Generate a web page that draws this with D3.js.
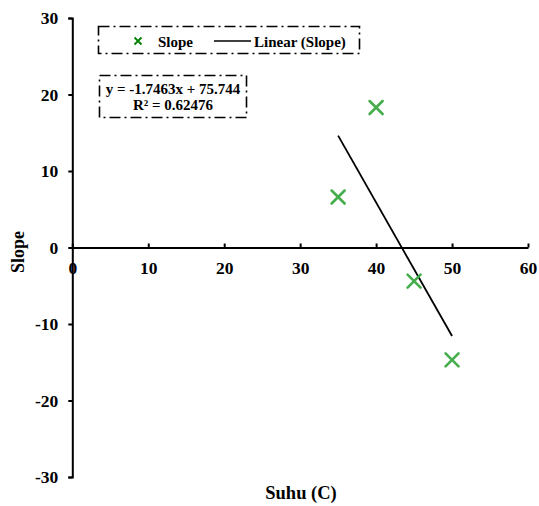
<!DOCTYPE html>
<html>
<head>
<meta charset="utf-8">
<script src="https://cdn.jsdelivr.net/npm/d3@7"></script>
<style>
  body { margin: 0; background: #fff; }
  text { font-family: "Liberation Serif", "Times New Roman", serif; font-weight: bold; fill: #000; }
</style>
</head>
<body>
<div id="chart"></div>
<script>
// data
var suhu = [35, 40, 45, 50];
var slope = [6.6, 18.3, -4.4, -14.7];
var xTicks = [0, 10, 20, 30, 40, 50, 60];
var yTicks = [-30, -20, -10, 0, 10, 20, 30];
var trendSlope = -1.7463;
var trendIntercept = 75.744;
var eqLines = ["y = -1.7463x + 75.744", "R\u00b2 = 0.62476"];

var width = 539, height = 506;

var svg = d3.select("#chart").append("svg")
  .attr("width", width)
  .attr("height", height);

var x = d3.scaleLinear().domain([0, 60]).range([72.3, 528]);
var y = d3.scaleLinear().domain([-30, 30]).range([477, 18]);

// plain hyphen like the original, not the unicode minus
var fmt = function(d) { return String(d); };

// y axis, ticks outside
var yAxis = svg.append("g")
  .attr("transform", "translate(" + x(0) + ",0)")
  .call(d3.axisLeft(y).tickValues(yTicks).tickFormat(fmt).tickSize(4).tickPadding(10));
yAxis.select(".domain").attr("stroke", "#000").attr("stroke-width", 2);
yAxis.selectAll(".tick line").attr("stroke", "#000").attr("stroke-width", 2);
yAxis.selectAll(".tick text")
  .style("font-size", "17.5px")
  .style("font-family", "Liberation Serif")
  .style("font-weight", "bold");

// x axis through zero, ticks pointing up
var xAxis = svg.append("g")
  .attr("transform", "translate(0," + y(0) + ")")
  .call(d3.axisBottom(x).tickValues(xTicks).tickFormat(fmt).tickSizeInner(-4).tickSizeOuter(0).tickPadding(14));
xAxis.select(".domain").attr("stroke", "#000").attr("stroke-width", 2);
xAxis.selectAll(".tick line").attr("stroke", "#000").attr("stroke-width", 2);
xAxis.selectAll(".tick text")
  .style("font-size", "17.5px")
  .style("font-family", "Liberation Serif")
  .style("font-weight", "bold");

// axis titles
svg.append("text")
  .attr("transform", "translate(24," + 252 + ") rotate(-90)")
  .attr("text-anchor", "middle")
  .style("font-size", "18px")
  .text("Slope");

svg.append("text")
  .attr("x", 301)
  .attr("y", 499)
  .attr("text-anchor", "middle")
  .style("font-size", "18.5px")
  .text("Suhu (C)");

// soft edge for markers
var defs = svg.append("defs");
defs.append("filter").attr("id", "soft")
  .append("feGaussianBlur").attr("stdDeviation", 0.7);

// trendline over the data range
var xmin = d3.min(suhu), xmax = d3.max(suhu);
svg.append("line")
  .attr("x1", x(xmin)).attr("y1", y(trendSlope * xmin + trendIntercept))
  .attr("x2", x(xmax)).attr("y2", y(trendSlope * xmax + trendIntercept))
  .attr("stroke", "#000")
  .attr("stroke-width", 1.8);

// markers
var pts = d3.zip(suhu, slope);
var m = 6.5;
svg.append("g").selectAll("path")
  .data(pts)
  .enter()
  .append("path")
  .attr("d", function(d) {
    var cx = x(d[0]), cy = y(d[1]);
    return "M" + (cx - m) + "," + (cy - m) + "L" + (cx + m) + "," + (cy + m) +
           "M" + (cx - m) + "," + (cy + m) + "L" + (cx + m) + "," + (cy - m);
  })
  .attr("stroke", "#44ad4c")
  .attr("stroke-width", 2.6)
  .attr("stroke-linecap", "round")
  .attr("filter", "url(#soft)");

// legend box
var dashDot = "11,4,2,4";
svg.append("rect")
  .attr("x", 98.5).attr("y", 26.5)
  .attr("width", 261).attr("height", 27)
  .attr("fill", "#fff")
  .attr("stroke", "#000")
  .attr("stroke-width", 1.6)
  .attr("stroke-dasharray", dashDot);

var lm = 3.5, lx = 138, ly = 41;
svg.append("path")
  .attr("d", "M" + (lx - lm) + "," + (ly - lm) + "L" + (lx + lm) + "," + (ly + lm) +
             "M" + (lx - lm) + "," + (ly + lm) + "L" + (lx + lm) + "," + (ly - lm))
  .attr("stroke", "#008000")
  .attr("stroke-width", 1.8);
svg.append("text").attr("x", 158).attr("y", 47)
  .style("font-size", "15px").text("Slope");
svg.append("line")
  .attr("x1", 214).attr("y1", 41).attr("x2", 251).attr("y2", 41)
  .attr("stroke", "#000").attr("stroke-width", 1.6);
svg.append("text").attr("x", 254).attr("y", 47)
  .style("font-size", "15px").text("Linear (Slope)");

// equation box
svg.append("rect")
  .attr("x", 99.5).attr("y", 75.5)
  .attr("width", 147).attr("height", 42)
  .attr("fill", "#fff")
  .attr("stroke", "#000")
  .attr("stroke-width", 1.6)
  .attr("stroke-dasharray", dashDot);

svg.append("g").selectAll("text")
  .data(eqLines)
  .enter()
  .append("text")
  .attr("x", 173)
  .attr("y", function(d, i) { return 94 + i * 15.5; })
  .attr("text-anchor", "middle")
  .style("font-size", "15px")
  .text(function(d) { return d; });
</script>
</body>
</html>
